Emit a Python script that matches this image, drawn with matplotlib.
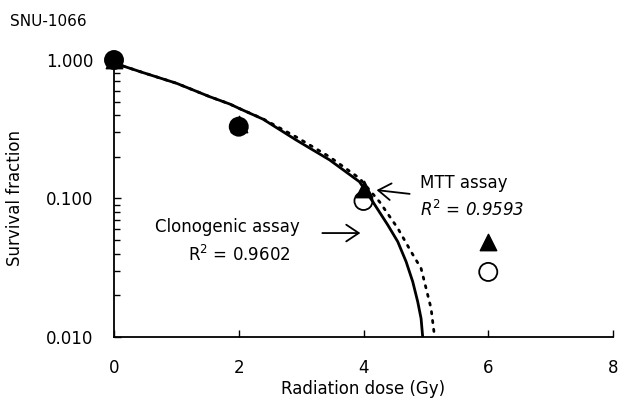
import matplotlib
matplotlib.use("Agg")
import matplotlib.pyplot as plt
from matplotlib.ticker import FixedLocator, NullFormatter

# Data points
dose = [0, 2, 4, 6]
mtt_sf = [1.0, 0.345, 0.117, 0.0488]
clono_sf = [1.0, 0.330, 0.096, 0.0295]

# Fitted curves
clono_fit_dose = [0.0, 0.469, 1.003, 1.536, 1.856, 2.016, 2.389, 2.923, 3.456, 3.936,
                  4.149, 4.389, 4.549, 4.683, 4.789, 4.869, 4.923, 4.949]
clono_fit_sf = [0.951, 0.810, 0.679, 0.543, 0.481, 0.445, 0.374, 0.264, 0.190, 0.132,
                0.0948, 0.0644, 0.0488, 0.035, 0.0251, 0.0180, 0.0136, 0.010]
mtt_fit_dose = [0.0, 0.469, 1.003, 1.536, 1.856, 2.016, 2.389, 2.923, 3.456, 3.936,
                4.256, 4.549, 4.763, 4.923, 5.003, 5.083, 5.14]
mtt_fit_sf = [0.951, 0.810, 0.679, 0.543, 0.481, 0.445, 0.376, 0.278, 0.200, 0.140,
              0.0948, 0.061, 0.0413, 0.0313, 0.0225, 0.0161, 0.010]

plt.rcParams['font.family'] = ['DejaVu Sans']

fig = plt.figure(figsize=(6.22, 4.01), dpi=100)
ax = fig.add_axes([114/622, 1 - 337/401, (613 - 114)/622, (337 - 60)/401])

ax.plot(clono_fit_dose, clono_fit_sf, color='black', lw=2.0, solid_joinstyle='round', zorder=2)
ax.plot(mtt_fit_dose, mtt_fit_sf, color='black', lw=2.0, linestyle=(0, (0.8, 2.4)),
        dash_capstyle='round', zorder=2)

ax.scatter(dose, mtt_sf, marker='^', s=140, color='black', zorder=3, clip_on=False)
ax.scatter(dose, clono_sf, marker='o', s=170, facecolors=['black', 'black', 'none', 'none'],
           edgecolors='black', linewidths=1.3, zorder=4, clip_on=False)

ax.set_yscale('log')
ax.set_xlim(0, 8)
ax.set_ylim(0.01, 1.0)
ax.set_xticks([0, 2, 4, 6, 8])
ax.set_yticks([0.01, 0.1, 1.0])
ax.set_yticklabels(['0.010', '0.100', '1.000'])
ax.yaxis.set_minor_locator(FixedLocator([k * 10.0**e for e in (-2, -1) for k in range(2, 10)]))
ax.yaxis.set_minor_formatter(NullFormatter())

for s in ('top', 'right'):
    ax.spines[s].set_visible(False)
for s in ('left', 'bottom'):
    ax.spines[s].set_linewidth(1.3)

ax.tick_params(axis='x', which='major', direction='in', length=5, width=1, pad=16, labelsize=12)
ax.tick_params(axis='y', which='major', direction='in', length=5, width=1, pad=15, labelsize=12)
ax.tick_params(axis='y', which='minor', direction='in', length=4, width=1)

ax.set_xlabel('Radiation dose (Gy)', fontsize=12, labelpad=2)
ax.set_ylabel('Survival fraction', fontsize=12, labelpad=16)
fig.text(10/622, 1 - 22/401, 'SNU-1066', fontsize=11, ha='left', va='center')

ax.text(4.91, 0.129, 'MTT assay', fontsize=12, ha='left', va='center')
ax.text(4.91, 0.0826, r'$R^2$ = 0.9593', fontsize=12, ha='left', va='center', style='italic')
ax.annotate('', xy=(4.21, 0.115), xytext=(4.74, 0.108),
            arrowprops=dict(arrowstyle='->,head_length=0.45,head_width=0.3', lw=1.3,
                            color='black', mutation_scale=20, shrinkA=0, shrinkB=0))

ax.text(0.656, 0.0623, 'Clonogenic assay', fontsize=12, ha='left', va='center')
ax.text(1.184, 0.0391, r'R$^2$ = 0.9602', fontsize=12, ha='left', va='center')
ax.annotate('', xy=(3.95, 0.0563), xytext=(3.34, 0.0563),
            arrowprops=dict(arrowstyle='->,head_length=0.45,head_width=0.3', lw=1.3,
                            color='black', mutation_scale=20, shrinkA=0, shrinkB=0))

fig.savefig('out.png', dpi=100)
